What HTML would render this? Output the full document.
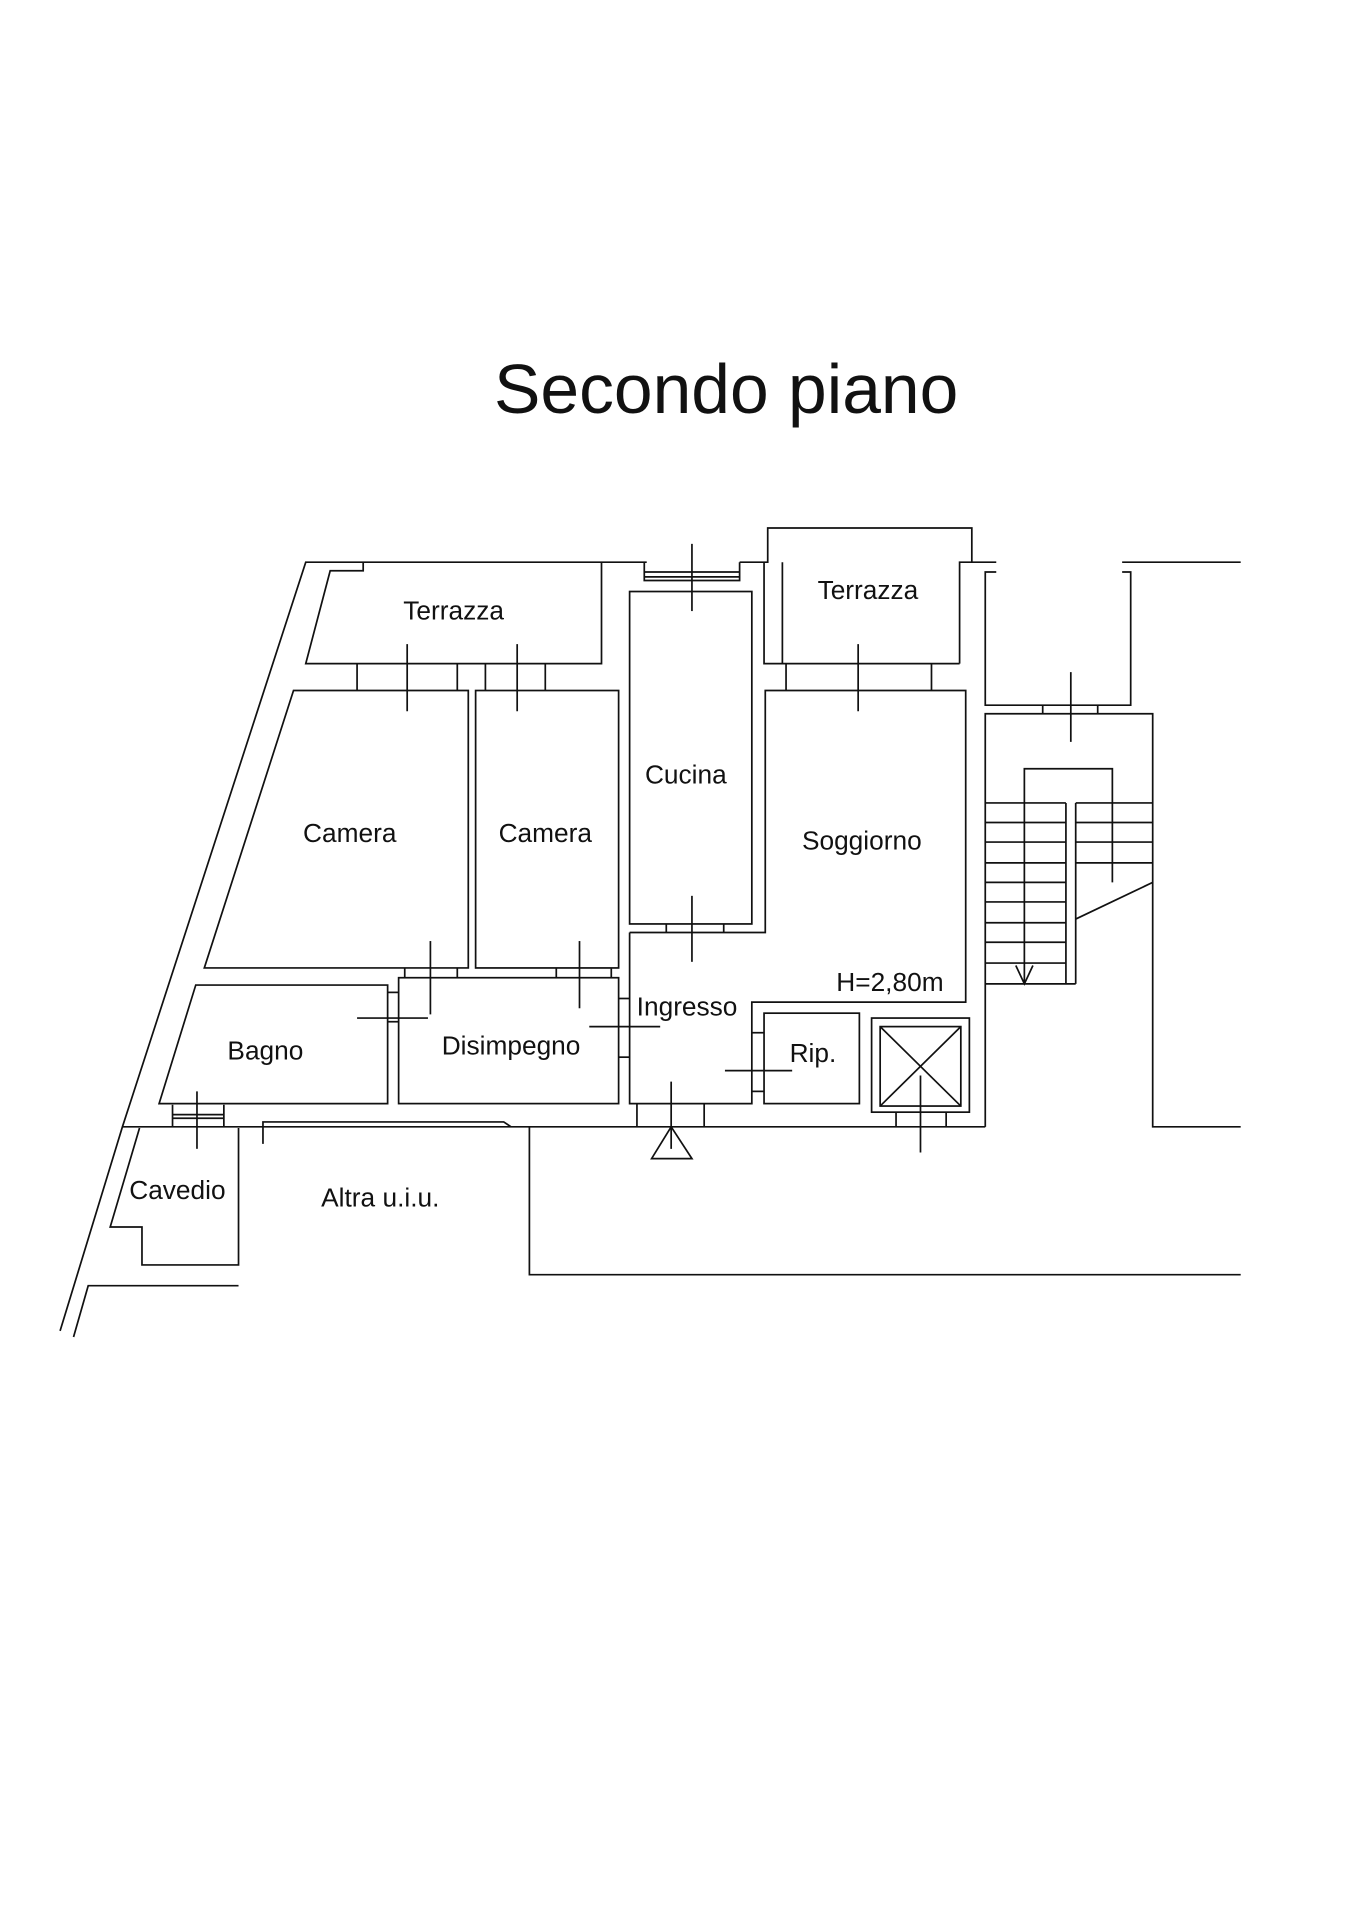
<!DOCTYPE html>
<html><head><meta charset="utf-8"><style>
html,body{margin:0;padding:0;background:#fff;}
svg{display:block;}
text{font-family:"Liberation Sans",Arial,sans-serif;fill:#111;}
</style></head><body>
<svg width="1357" height="1920" viewBox="0 0 1110 1571" xmlns="http://www.w3.org/2000/svg">
<rect width="1110" height="1571" fill="#fff"/>
<text x="594" y="338" font-size="57" text-anchor="middle" textLength="380" lengthAdjust="spacingAndGlyphs">Secondo piano</text>
<g fill="none" stroke="#111" stroke-width="1.4">
<polyline points="529,460 250,460 100,922 49,1089"/>
<polyline points="60,1094 72,1052 195,1052"/>
<polyline points="297,460 297,467 270,467 250,543 492,543 492,460"/>
<line x1="292" y1="543" x2="292" y2="565"/><line x1="374" y1="543" x2="374" y2="565"/>
<line x1="397" y1="543" x2="397" y2="565"/><line x1="446" y1="543" x2="446" y2="565"/>
<line x1="333" y1="527" x2="333" y2="582"/><line x1="423" y1="527" x2="423" y2="582"/>
<polygon points="240,565 383,565 383,792 167,792"/>
<rect x="389" y="565" width="117" height="227"/>
<rect x="515" y="484" width="100" height="272"/>
<polyline points="527,460 527,475 605,475 605,460"/>
<line x1="527" y1="468" x2="605" y2="468"/><line x1="527" y1="472" x2="605" y2="472"/>
<line x1="566" y1="445" x2="566" y2="500"/>
<polyline points="605,460 628,460 628,432 795,432 795,460 815,460"/>
<polyline points="625,460 625,543 640,543 640,460"/>
<line x1="640" y1="543" x2="785" y2="543"/><polyline points="785,543 785,460 795,460"/>
<line x1="643" y1="543" x2="643" y2="565"/><line x1="762" y1="543" x2="762" y2="565"/>
<line x1="702" y1="527" x2="702" y2="582"/>
<polyline points="515,763 626,763 626,565 790,565 790,820 615,820 615,903 515,903 515,763"/>
<line x1="545" y1="756" x2="545" y2="763"/><line x1="592" y1="756" x2="592" y2="763"/>
<line x1="566" y1="733" x2="566" y2="787"/>
<rect x="625" y="829" width="78" height="74"/>
<line x1="615" y1="845" x2="625" y2="845"/><line x1="615" y1="893" x2="625" y2="893"/>
<line x1="593" y1="876" x2="648" y2="876"/>
<rect x="713" y="833" width="80" height="77"/>
<rect x="720" y="840" width="66" height="65"/>
<line x1="720" y1="840" x2="786" y2="905"/><line x1="786" y1="840" x2="720" y2="905"/>
<line x1="733" y1="910" x2="733" y2="922"/><line x1="774" y1="910" x2="774" y2="922"/>
<line x1="753" y1="880" x2="753" y2="943"/>
<line x1="918" y1="460" x2="1015" y2="460"/>
<polyline points="815,468 806,468 806,577 925,577 925,468 918,468"/>
<line x1="853" y1="577" x2="853" y2="584"/><line x1="898" y1="577" x2="898" y2="584"/>
<line x1="876" y1="550" x2="876" y2="607"/>
<polyline points="806,922 806,584 943,584 943,922 1015,922"/>
<polyline points="838,805 838,629 910,629 910,722"/>
<line x1="872" y1="657" x2="872" y2="805"/><line x1="880" y1="657" x2="880" y2="805"/>
<line x1="806" y1="805" x2="880" y2="805"/>
<g>
<line x1="806" y1="657" x2="872" y2="657"/><line x1="806" y1="673" x2="872" y2="673"/>
<line x1="806" y1="689" x2="872" y2="689"/><line x1="806" y1="706" x2="872" y2="706"/>
<line x1="806" y1="722" x2="872" y2="722"/><line x1="806" y1="738" x2="872" y2="738"/>
<line x1="806" y1="755" x2="872" y2="755"/><line x1="806" y1="771" x2="872" y2="771"/>
<line x1="806" y1="788" x2="872" y2="788"/>
<line x1="880" y1="657" x2="943" y2="657"/><line x1="880" y1="673" x2="943" y2="673"/>
<line x1="880" y1="689" x2="943" y2="689"/><line x1="880" y1="706" x2="943" y2="706"/>
</g>
<line x1="880" y1="752" x2="943" y2="722"/>
<polyline points="831,790 838,805 845,790"/>
<polygon points="160,806 317,806 317,903 130,903"/>
<rect x="326" y="800" width="180" height="103"/>
<line x1="331" y1="792" x2="331" y2="800"/><line x1="374" y1="792" x2="374" y2="800"/>
<line x1="352" y1="770" x2="352" y2="830"/>
<line x1="455" y1="792" x2="455" y2="800"/><line x1="500" y1="792" x2="500" y2="800"/>
<line x1="474" y1="770" x2="474" y2="825"/>
<line x1="317" y1="812" x2="326" y2="812"/><line x1="317" y1="836" x2="326" y2="836"/>
<line x1="292" y1="833" x2="350" y2="833"/>
<line x1="506" y1="817" x2="515" y2="817"/><line x1="506" y1="865" x2="515" y2="865"/>
<line x1="482" y1="840" x2="540" y2="840"/>
<line x1="100" y1="922" x2="806" y2="922"/>
<polyline points="215,936 215,918 412,918 418,922"/>
<line x1="521" y1="903" x2="521" y2="922"/><line x1="576" y1="903" x2="576" y2="922"/>
<line x1="549" y1="885" x2="549" y2="940"/>
<polygon points="533,948 566,948 549,922"/>
<polyline points="433,922 433,1043 1015,1043"/>
<polyline points="114,923 90,1004 116,1004 116,1035 195,1035 195,923"/>
<line x1="141" y1="904" x2="141" y2="922"/><line x1="183" y1="904" x2="183" y2="922"/>
<line x1="141" y1="912" x2="183" y2="912"/><line x1="141" y1="915" x2="183" y2="915"/>
<line x1="161" y1="893" x2="161" y2="940"/>
</g>
<g font-size="21.5" text-anchor="middle">
<text x="371" y="507">Terrazza</text>
<text x="710" y="490">Terrazza</text>
<text x="286" y="689">Camera</text>
<text x="446" y="689">Camera</text>
<text x="561" y="641">Cucina</text>
<text x="705" y="695">Soggiorno</text>
<text x="728" y="811">H=2,80m</text>
<text x="562" y="831">Ingresso</text>
<text x="418" y="863">Disimpegno</text>
<text x="217" y="867">Bagno</text>
<text x="665" y="869">Rip.</text>
<text x="145" y="981">Cavedio</text>
<text x="311" y="987">Altra u.i.u.</text>
</g>
</svg>
</body></html>
